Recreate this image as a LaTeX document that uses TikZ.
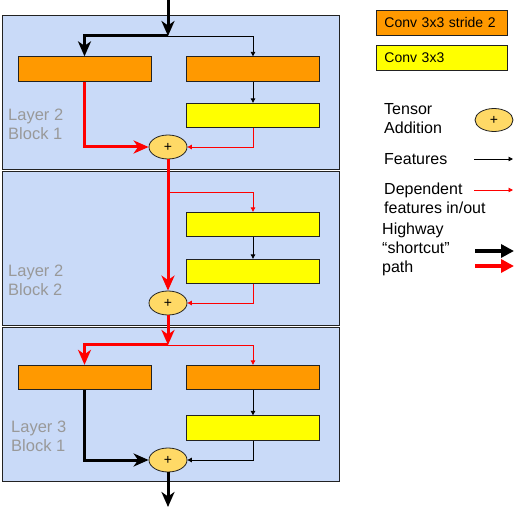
\documentclass[tikz,border=0pt]{standalone}
\usepackage{fontspec}
\setmainfont{Liberation Sans}
\usetikzlibrary{arrows.meta,shapes.geometric}
\definecolor{panelblue}{HTML}{C9DAF8}
\definecolor{convorange}{HTML}{FF9900}
\definecolor{convyellow}{HTML}{FFFF00}
\definecolor{addfill}{HTML}{FFD966}
\definecolor{labelgray}{HTML}{999999}
\definecolor{edgedark}{HTML}{222222}
\begin{document}
\begin{tikzpicture}[x=1pt,y=-1pt,
  panel/.style={draw=edgedark, fill=panelblue, line width=0.9pt},
  s2box/.style={draw=edgedark, fill=convorange, line width=0.8pt, minimum width=133pt, minimum height=24.5pt, inner sep=0pt},
  c3box/.style={s2box, fill=convyellow},
  adder/.style={ellipse, draw=edgedark, fill=addfill, line width=0.8pt, minimum width=38pt, minimum height=24pt, inner sep=0pt, font=\fontsize{14}{14}\selectfont},
  blabel/.style={anchor=west, align=left, inner sep=0pt, text=labelgray, font=\fontsize{16.5}{19}\selectfont},
  leglabel/.style={anchor=west, align=left, inner sep=0pt, font=\fontsize{16}{19}\selectfont},
  thickblack/.style={line width=3pt, black, -{Stealth[length=15pt,width=13pt,inset=4.5pt]}},
  thickred/.style={line width=3pt, red, -{Stealth[length=15pt,width=13pt,inset=4.5pt]}},
  thinblack/.style={line width=0.9pt, black, -{Triangle[length=4.5pt,width=4.5pt]}},
  thinred/.style={line width=0.9pt, red, -{Triangle[length=4.5pt,width=4.5pt]}},
  legthick/.style={line width=3.5pt, -{Triangle[length=13pt,width=13pt]}},
  legbox/.style={draw=edgedark, line width=0.8pt, minimum height=25pt, text width=115pt, inner xsep=8pt, inner ysep=0pt, align=left, anchor=west, font=\fontsize{14}{14}\selectfont}
]
\useasboundingbox (0,0) rectangle (515,508);

% panels
\draw[panel] (2,15) rectangle (339,169);
\draw[panel] (2,171) rectangle (339,325);
\draw[panel] (2,327) rectangle (339,481);

% block labels
\node[blabel] (lab1) at (8,124) {Layer 2\\Block 1};
\node[blabel] (lab2) at (8,280) {Layer 2\\Block 2};
\node[blabel] (lab3) at (11,436) {Layer 3\\Block 1};

% block 1
\node[s2box] (o1L) at (84.5,69) {};
\node[s2box] (o1R) at (253,69) {};
\node[c3box] (y1) at (253,115.5) {};
\node[adder] (a1) at (168,147) {+};
\coordinate (in) at (168,0);
\coordinate (j1) at (168,36);

% block 2
\node[c3box] (y2a) at (253,224.5) {};
\node[c3box] (y2b) at (253,271.5) {};
\node[adder] (a2) at (168,303) {+};
\coordinate (j2) at (168,192);

% block 3
\node[s2box] (o3L) at (84.5,377.5) {};
\node[s2box] (o3R) at (253,377.5) {};
\node[c3box] (y3) at (253,428) {};
\node[adder] (a3) at (168,460) {+};
\coordinate (j3) at (168,345);
\coordinate (out) at (168,507);

% connectors block 1
\draw[thickblack] (in) -- (j1);
\draw[thickblack] (j1) -| (o1L.north);
\draw[thinblack] (j1) -| (o1R.north);
\draw[thinblack] (o1R) -- (y1);
\draw[thickred] (o1L.south) |- (a1.west);
\draw[thinred] (y1.south) |- (a1.east);

% connectors block 2
\draw[thickred] (a1.south) -- (a2.north);
\draw[thinred] (j2) -| (y2a.north);
\draw[thinblack] (y2a) -- (y2b);
\draw[thinred] (y2b.south) |- (a2.east);

% connectors block 3
\draw[thickred] (a2.south) -- (j3);
\draw[thickred] (j3) -| (o3L.north);
\draw[thinred] (j3) -| (o3R.north);
\draw[thinblack] (o3R) -- (y3);
\draw[thickblack] (o3L.south) |- (a3.west);
\draw[thinblack] (y3.south) |- (a3.east);
\draw[thickblack] (a3.south) -- (out);

% legend
\node[legbox, fill=convorange] (lgS2) at (376,22.5) {Conv 3x3 stride 2};
\node[legbox, fill=convyellow] (lgC3) at (376,58) {Conv 3x3};
\node[leglabel] (lgTA) at (384,118.5) {Tensor\\Addition};
\node[adder, minimum height=23pt] (lgAdd) at (494,120) {+};
\node[leglabel] (lgF) at (384,159) {Features};
\coordinate (lgFa) at (474,159);
\coordinate (lgFb) at (513,159);
\draw[thinblack] (lgFa) -- (lgFb);
\node[leglabel] (lgD) at (384,198.5) {Dependent\\features in/out};
\coordinate (lgDa) at (474,190);
\coordinate (lgDb) at (513,190);
\draw[thinred] (lgDa) -- (lgDb);
\node[leglabel] (lgH) at (382,249) {Highway\\“shortcut”\\path};
\coordinate (lgHa) at (475,251);
\coordinate (lgHb) at (514,251);
\coordinate (lgRa) at (475,266);
\coordinate (lgRb) at (514,266);
\draw[legthick, black] (lgHa) -- (lgHb);
\draw[legthick, red] (lgRa) -- (lgRb);
\end{tikzpicture}
\end{document}
